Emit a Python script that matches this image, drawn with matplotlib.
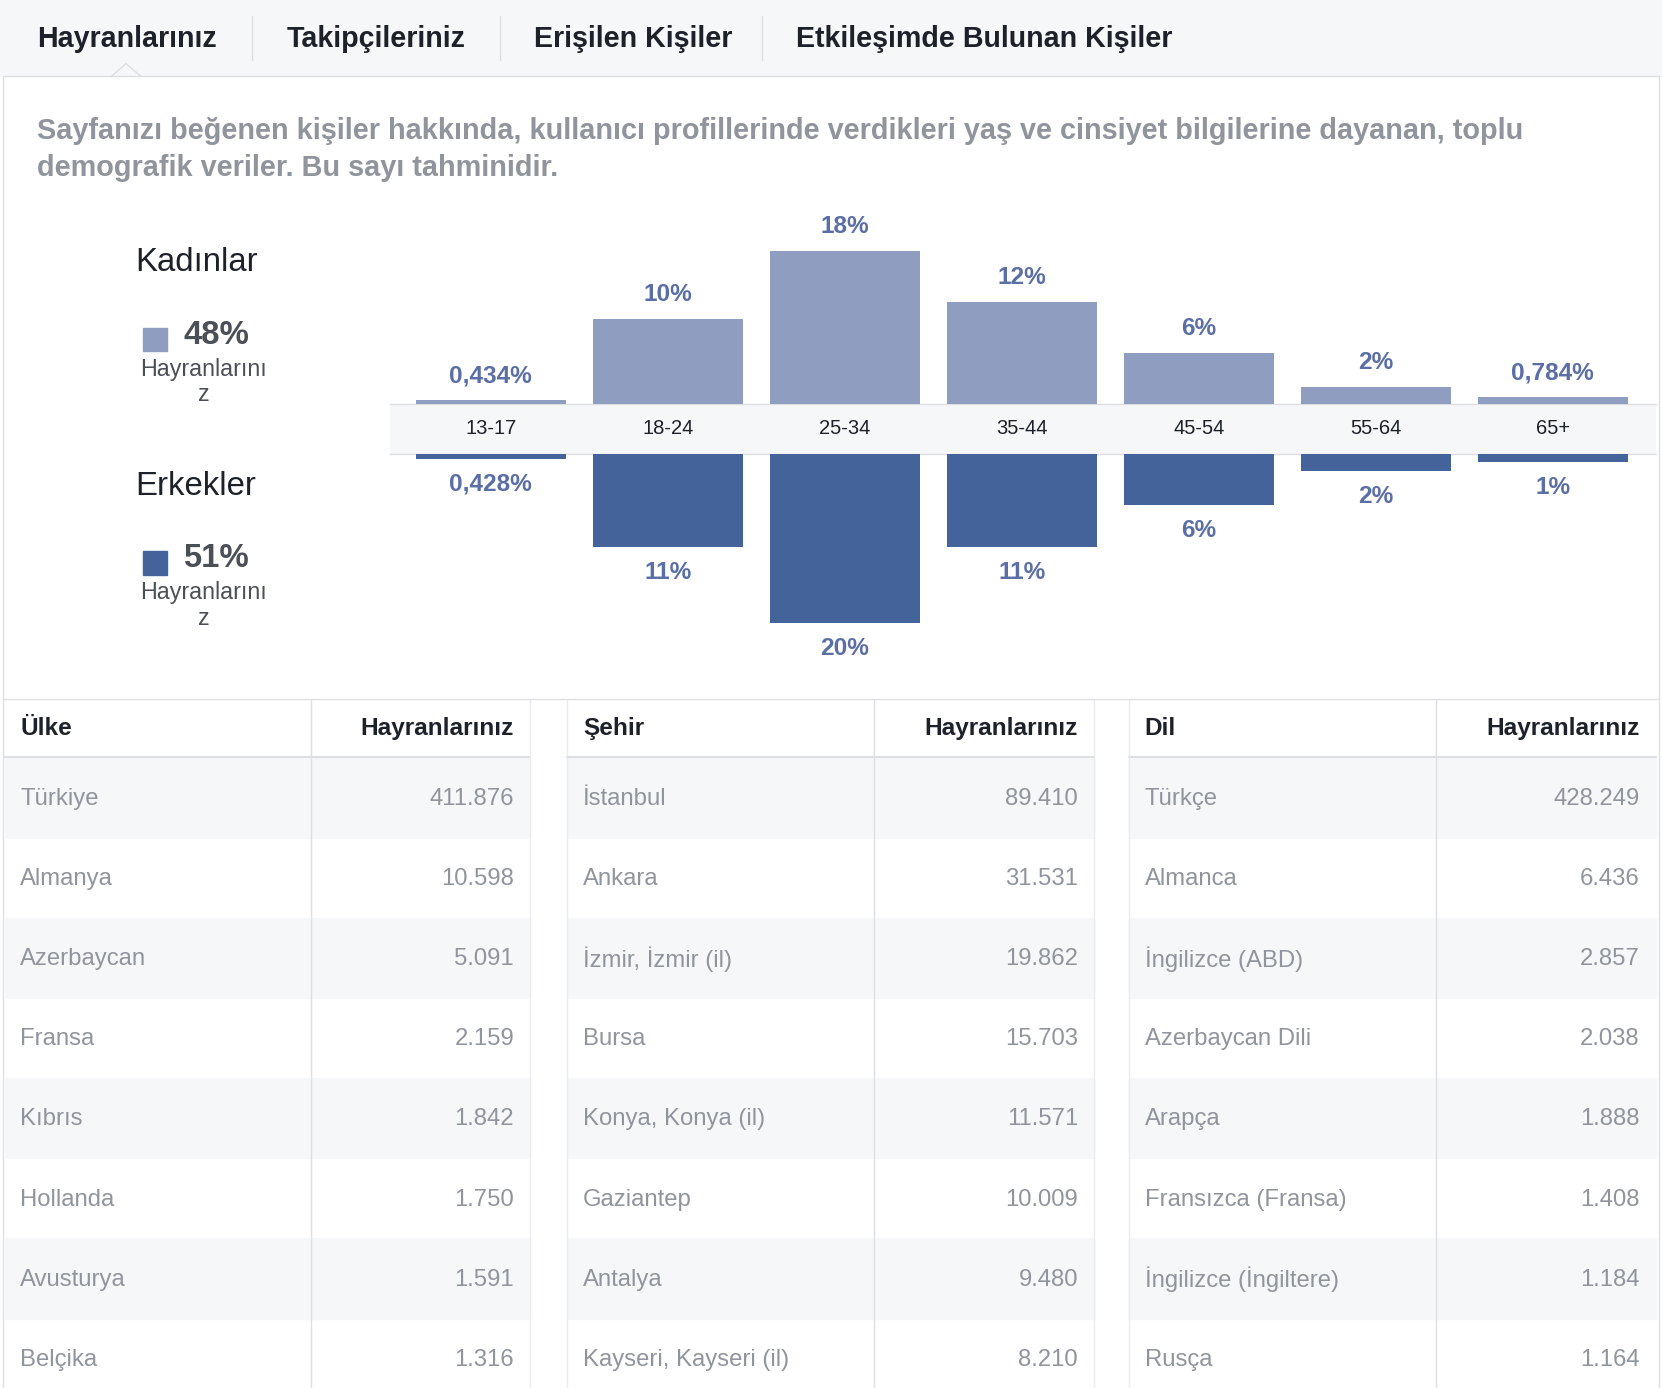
import matplotlib.pyplot as plt
from matplotlib.patches import Rectangle

plt.rcParams['font.family'] = ['Liberation Sans', 'DejaVu Sans']

tabs = ['Hayranlarınız', 'Takipçileriniz', 'Erişilen Kişiler', 'Etkileşimde Bulunan Kişiler']
age_groups = ['13-17', '18-24', '25-34', '35-44', '45-54', '55-64', '65+']
women = [0.434, 10, 18, 12, 6, 2, 0.784]
men = [0.428, 11, 20, 11, 6, 2, 1]
women_lbl = ['0,434%', '10%', '18%', '12%', '6%', '2%', '0,784%']
men_lbl = ['0,428%', '11%', '20%', '11%', '6%', '2%', '1%']

countries = ['Türkiye', 'Almanya', 'Azerbaycan', 'Fransa', 'Kıbrıs', 'Hollanda', 'Avusturya', 'Belçika']
country_fans = ['411.876', '10.598', '5.091', '2.159', '1.842', '1.750', '1.591', '1.316']
cities = ['İstanbul', 'Ankara', 'İzmir, İzmir (il)', 'Bursa', 'Konya, Konya (il)', 'Gaziantep', 'Antalya', 'Kayseri, Kayseri (il)']
city_fans = ['89.410', '31.531', '19.862', '15.703', '11.571', '10.009', '9.480', '8.210']
languages = ['Türkçe', 'Almanca', 'İngilizce (ABD)', 'Azerbaycan Dili', 'Arapça', 'Fransızca (Fransa)', 'İngilizce (İngiltere)', 'Rusça']
lang_fans = ['428.249', '6.436', '2.857', '2.038', '1.888', '1.408', '1.184', '1.164']

W, H = 1568, 1309
k = 1662 / W
def fs(px):
    return px * k * 0.72

fig = plt.figure(figsize=(16.62, 13.88), dpi=100)
ax = fig.add_axes([0, 0, 1, 1])
ax.set_xlim(0, W)
ax.set_ylim(H, 0)
ax.axis('off')

# background / tabs
ax.add_patch(Rectangle((0, 0), W, 72, color='#f6f7f9', zorder=0))
ax.add_patch(Rectangle((3, 72), W - 6, H, facecolor='white', edgecolor='#dddfe2', zorder=0))
tab_x = [35, 270, 504, 751]
for t, x in zip(tabs, tab_x):
    ax.text(x, 37, t, fontsize=fs(27), fontweight='bold', color='#1d2129', va='center')
for x in [238, 472, 719]:
    ax.plot([x, x], [15, 57], color='#dddfe2', lw=1)
ax.plot([105, 119, 133], [72, 60, 72], color='#dddfe2', lw=1)

ax.text(35, 124, 'Sayfanızı beğenen kişiler hakkında, kullanıcı profillerinde verdikleri yaş ve cinsiyet bilgilerine dayanan, toplu',
        fontsize=fs(27.3), fontweight='bold', color='#90949c', va='center')
ax.text(35, 158, 'demografik veriler. Bu sayı tahminidir.', fontsize=fs(27.3), fontweight='bold', color='#90949c', va='center')

# legend
for y0, title, col, pct in [(248, 'Kadınlar', '#8f9dc0', '48%'), (459, 'Erkekler', '#43639a', '51%')]:
    ax.text(128, y0, title, fontsize=fs(31), color='#1d2129', va='center')
    ax.add_patch(Rectangle((135, y0 + 61), 23, 22, color=col))
    ax.text(173, y0 + 68, pct, fontsize=fs(31), fontweight='bold', color='#4b4f56', va='center')
    ax.text(192, y0 + 100, 'Hayranlarını', fontsize=fs(22), color='#4b4f56', va='center', ha='center')
    ax.text(192, y0 + 124, 'z', fontsize=fs(22), color='#4b4f56', va='center', ha='center')

# band
ax.add_patch(Rectangle((368, 381), 1194, 47, facecolor='#f6f7f9', edgecolor='none', zorder=1))
ax.plot([368, 1562], [381, 381], color='#dddfe2', lw=1, zorder=1)
ax.plot([368, 1562], [428, 428], color='#dddfe2', lw=1, zorder=1)

# bar axes
left, right, top, bot = 368, 1562, 190, 640
bx = fig.add_axes([left / W, 1 - bot / H, (right - left) / W, (bot - top) / H])
bx.patch.set_alpha(0)
bx.axis('off')
ppp = 8.0
gap = 47 / 2 / ppp
bx.set_xlim((left - 463) / 167, (right - 463) / 167)
bx.set_ylim(-(bot - 428) / ppp - gap, (381 - top) / ppp + gap)
xs = range(len(age_groups))
wv = [max(v, 0.3) for v in women]
mv = [max(v, 0.6) for v in men]
bx.bar(xs, wv, bottom=gap, width=0.85, color='#8f9dc0')
bx.bar(xs, [-v for v in mv], bottom=-gap, width=0.85, color='#43639a')
for i in xs:
    bx.text(i, 0, age_groups[i], ha='center', va='center', fontsize=fs(19), color='#1d2129')
    bx.text(i, gap + wv[i] + 2.9, women_lbl[i], ha='center', va='center', fontsize=fs(23), fontweight='bold', color='#5b6fa6')
    bx.text(i, -gap - mv[i] - 3.0, men_lbl[i], ha='center', va='center', fontsize=fs(23), fontweight='bold', color='#5b6fa6')

# tables
ax.plot([3, W - 3], [659, 659], color='#dddfe2', lw=1)
tables = [(4, 500, 293, 'Ülke', countries, country_fans),
          (535, 1032, 825, 'Şehir', cities, city_fans),
          (1065, 1562, 1355, 'Dil', languages, lang_fans)]
row_h = 75.5
for x0, x1, xd, head, names, vals in tables:
    ax.text(x0 + 15, 687, head, fontsize=fs(23), fontweight='bold', color='#1d2129', va='center')
    ax.text(x1 - 15, 687, 'Hayranlarınız', fontsize=fs(23), fontweight='bold', color='#1d2129', va='center', ha='right')
    ax.plot([x0, x1], [714, 714], color='#dddfe2', lw=1.5)
    for j, (n, v) in enumerate(zip(names, vals)):
        y = 715 + j * row_h
        if j % 2 == 0:
            ax.add_patch(Rectangle((x0, y), x1 - x0, row_h, color='#f6f7f9', zorder=0.5))
        ax.text(x0 + 15, y + row_h / 2 + 1, n, fontsize=fs(22.5), color='#90949c', va='center')
        ax.text(x1 - 15, y + row_h / 2 + 1, v, fontsize=fs(22.5), color='#90949c', va='center', ha='right')
    ax.plot([xd, xd], [660, H], color='#dddfe2', lw=1)
for x in [500, 535, 1032, 1065]:
    ax.plot([x, x], [660, H], color='#e9ebee', lw=1)

fig.savefig('out.png', dpi=100)
